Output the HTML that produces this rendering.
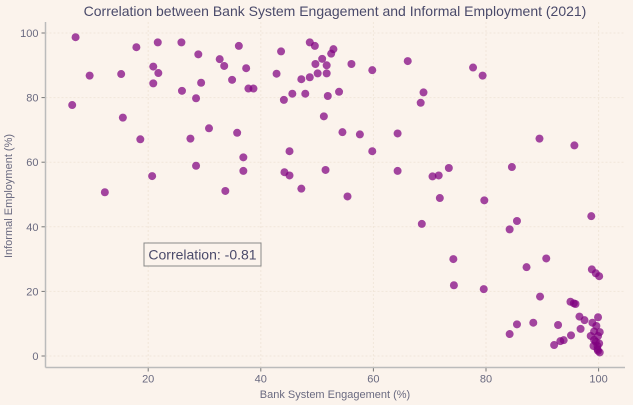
<!DOCTYPE html>
<html><head><meta charset="utf-8"><style>
body{margin:0;background:#fbf3ec;}
svg{display:block;font-family:"Liberation Sans",sans-serif;}
</style></head><body>
<svg id="chart" width="633" height="405">
<rect width="633" height="405" fill="#fbf3ec"/>
<text x="335" y="16" text-anchor="middle" font-size="14" fill="#4a4a6a">Correlation between Bank System Engagement and Informal Employment (2021)</text>
<g id="grid"></g>
<g id="axes"></g>
<g id="points"></g>
<rect x="144" y="243" width="117" height="23" fill="#fbf3ec" stroke="#888" stroke-width="1"/>
<text x="202.5" y="259.5" text-anchor="middle" font-size="14" fill="#4a4a6a">Correlation: -0.81</text>
<text x="335" y="398" text-anchor="middle" font-size="11" fill="#6a6a80">Bank System Engagement (%)</text>
<text transform="translate(12,196) rotate(-90)" text-anchor="middle" font-size="11" fill="#6a6a80">Informal Employment (%)</text>
</svg>
<script>
const xValues=[7.1,9.6,6.5,12.3,15.2,15.5,17.9,18.6,20.9,21.7,21.8,20.9,20.7,25.9,28.9,26.0,28.5,29.4,27.5,28.5,30.8,32.7,33.5,34.9,36.1,37.4,37.8,38.7,35.8,36.9,36.9,33.7,42.8,43.6,44.1,45.6,47.9,47.2,48.7,49.6,48.7,49.7,50.1,50.9,51.7,51.7,52.5,52.9,51.9,51.2,45.1,44.2,45.1,51.5,47.2,53.9,56.1,59.8,54.5,57.6,64.3,59.8,64.3,55.4,66.1,68.9,68.4,70.5,71.6,73.4,71.8,77.7,79.4,84.6,79.7,89.5,95.7,98.7,68.6,85.5,84.2,74.2,74.3,79.6,87.2,90.7,89.6,98.8,99.5,100.1,95.0,95.9,95.6,96.6,97.5,99.9,98.9,99.6,85.5,88.4,92.8,84.2,96.8,95.1,99.2,100.2,98.6,99.9,92.1,93.2,93.8,99.2,100.1,99.1,99.8,99.5,99.8,100.2,99.9];
const yValues=[98.7,86.8,77.7,50.7,87.3,73.8,95.6,67.1,89.6,97.1,87.6,84.4,55.7,97.1,93.4,82.1,79.8,84.6,67.3,58.9,70.5,91.9,89.8,85.5,96.0,89.1,82.8,82.8,69.1,61.5,57.3,51.1,87.4,94.3,79.3,81.2,81.2,85.7,97.1,96.0,86.3,90.4,87.5,92.0,90.0,87.5,93.6,95.0,80.5,74.2,63.4,56.9,55.9,57.6,51.8,81.8,90.4,88.5,69.3,68.6,68.9,63.4,57.3,49.4,91.3,81.6,78.4,55.6,55.9,58.2,48.9,89.3,86.8,58.5,48.2,67.3,65.2,43.3,40.9,41.8,39.2,30.0,21.9,20.7,27.5,30.2,18.4,26.8,25.6,24.7,16.8,16.1,16.3,12.2,11.1,12.0,10.3,9.3,9.8,10.3,9.6,6.8,8.4,6.4,7.6,7.4,6.2,6.2,3.4,4.6,4.9,5.0,3.9,3.1,3.1,4.4,2.1,1.1,1.6];
const xTicks=[20,40,60,80,100];
const yTicks=[0,20,40,60,80,100];
const NS="http://www.w3.org/2000/svg";
const L=45.5,R=625,T=22,B=367.5;
const xs=v=>35.6+v*5.63;
const ys=v=>356-v*3.23;
function mk(tag,attrs,parent){const e=document.createElementNS(NS,tag);for(const k in attrs)e.setAttribute(k,attrs[k]);parent.appendChild(e);return e;}
const grid=document.getElementById('grid'),axes=document.getElementById('axes'),pts=document.getElementById('points');
xTicks.forEach(t=>{
 const g=mk('line',{x1:xs(t),x2:xs(t),y1:T,y2:B,stroke:'#f1e6da','stroke-dasharray':'2,2'},grid);
 
 
 const tk=mk('line',{x1:xs(t),x2:xs(t),y1:B,y2:B+4,stroke:'#777'},axes);
 
 
 const lb=mk('text',{x:xs(t),y:B+15,'text-anchor':'middle','font-size':'11',fill:'#6a6a80'},axes);
 lb.textContent=t;
 
 
});
yTicks.forEach(t=>{
 const g=mk('line',{x1:L,x2:R,y1:ys(t),y2:ys(t),stroke:'#f1e6da','stroke-dasharray':'2,2'},grid);
 
 
 const tk=mk('line',{x1:L-4,x2:L,y1:ys(t),y2:ys(t),stroke:'#777'},axes);
 
 
 const lb=mk('text',{x:L-7,y:ys(t)+4,'text-anchor':'end','font-size':'11',fill:'#6a6a80'},axes);
 lb.textContent=t;
 
 
});
const xa=mk('line',{x1:L,x2:R,y1:B,y2:B,stroke:'#bbb','stroke-width':1.5},axes);


const ya=mk('line',{x1:L,x2:L,y1:T,y2:B,stroke:'#bbb','stroke-width':1.5},axes);


xValues.forEach((x,i)=>{
 const c=mk('circle',{cx:xs(x),cy:ys(yValues[i]),r:4,fill:'#800080','fill-opacity':0.72},pts);
 
 
});
</script>
</body></html>
